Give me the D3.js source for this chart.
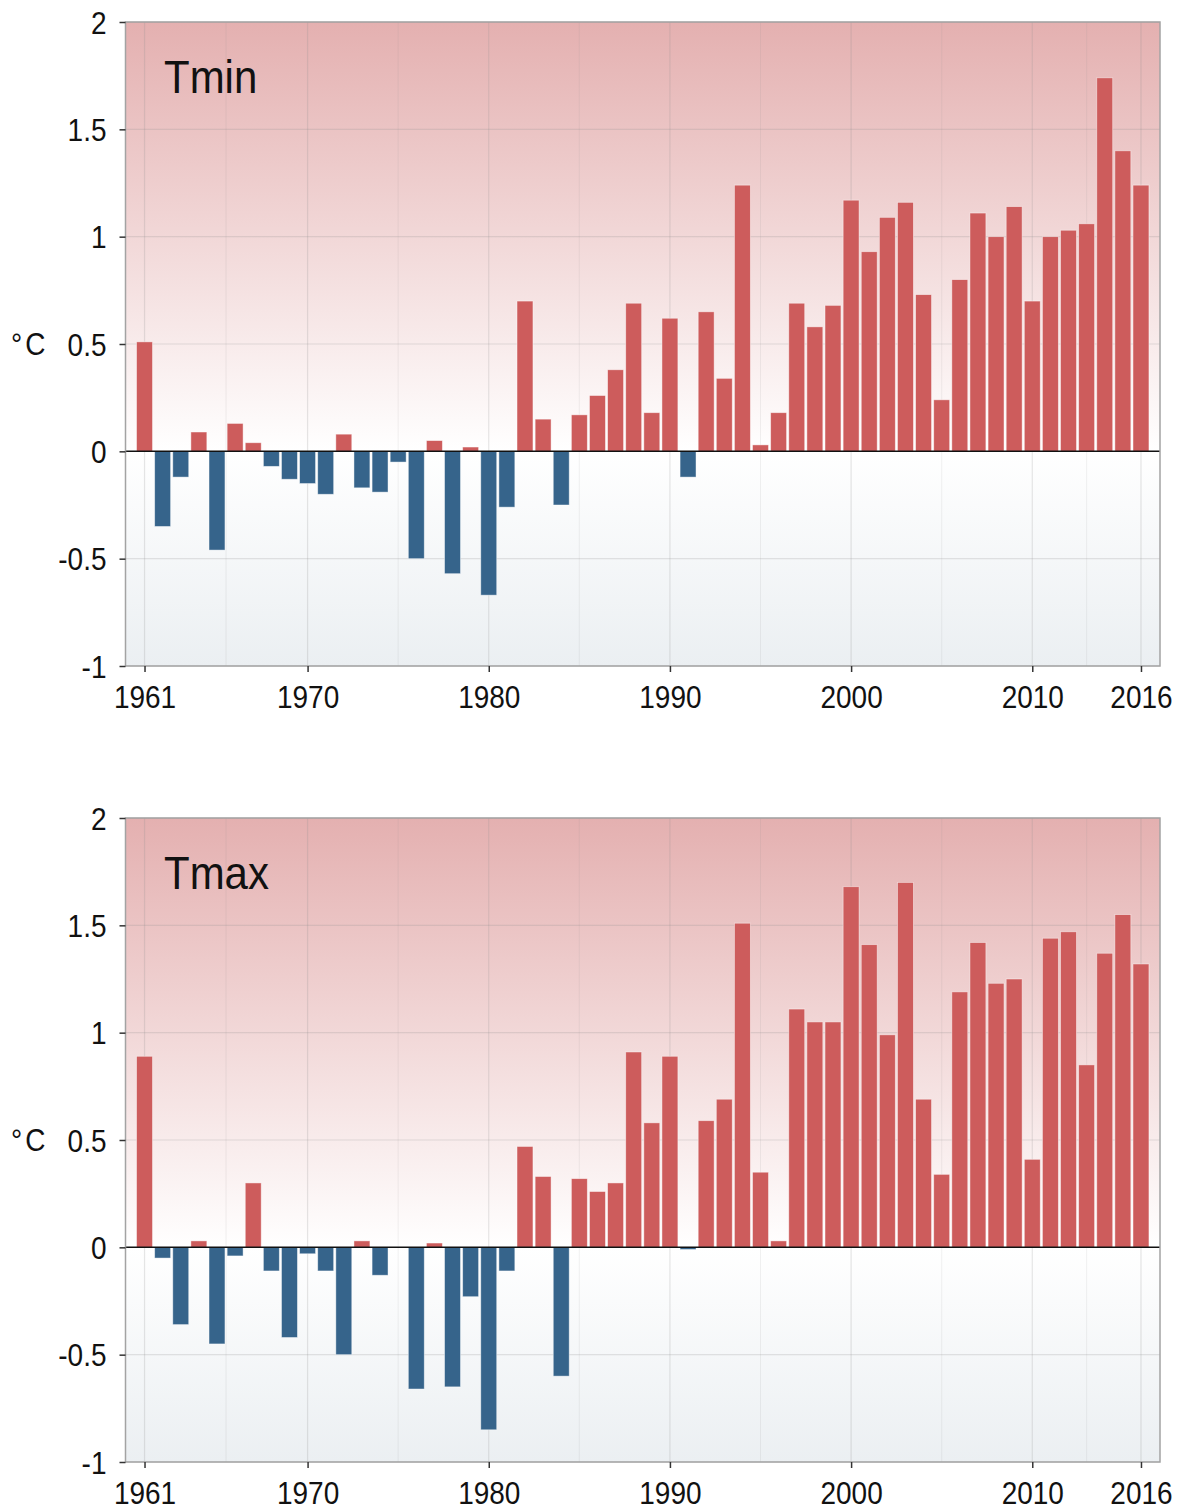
<!DOCTYPE html>
<html>
<head>
<meta charset="utf-8">
<script src="https://cdn.jsdelivr.net/npm/d3@7"></script>
<style>
  html, body { margin: 0; padding: 0; background: #ffffff; }
  svg { display: block; font-family: "Liberation Sans", Arial, Helvetica, sans-serif; }
</style>
</head>
<body>
<svg id="chart" width="1181" height="1511"></svg>
<script>
// Annual temperature anomalies (°C), 1961–2016
const years = [
  1961, 1962, 1963, 1964, 1965, 1966, 1967, 1968, 1969, 1970,
  1971, 1972, 1973, 1974, 1975, 1976, 1977, 1978, 1979, 1980,
  1981, 1982, 1983, 1984, 1985, 1986, 1987, 1988, 1989, 1990,
  1991, 1992, 1993, 1994, 1995, 1996, 1997, 1998, 1999, 2000,
  2001, 2002, 2003, 2004, 2005, 2006, 2007, 2008, 2009, 2010,
  2011, 2012, 2013, 2014, 2015, 2016
];

const tmin = [
  0.51, -0.35, -0.12, 0.09, -0.46, 0.13, 0.04, -0.07, -0.13, -0.15,
  -0.20, 0.08, -0.17, -0.19, -0.05, -0.50, 0.05, -0.57, 0.02, -0.67,
  -0.26, 0.70, 0.15, -0.25, 0.17, 0.26, 0.38, 0.69, 0.18, 0.62,
  -0.12, 0.65, 0.34, 1.24, 0.03, 0.18, 0.69, 0.58, 0.68, 1.17,
  0.93, 1.09, 1.16, 0.73, 0.24, 0.80, 1.11, 1.00, 1.14, 0.70,
  1.00, 1.03, 1.06, 1.74, 1.40, 1.24
];

const tmax = [
  0.89, -0.05, -0.36, 0.03, -0.45, -0.04, 0.30, -0.11, -0.42, -0.03,
  -0.11, -0.50, 0.03, -0.13, 0.00, -0.66, 0.02, -0.65, -0.23, -0.85,
  -0.11, 0.47, 0.33, -0.60, 0.32, 0.26, 0.30, 0.91, 0.58, 0.89,
  -0.01, 0.59, 0.69, 1.51, 0.35, 0.03, 1.11, 1.05, 1.05, 1.68,
  1.41, 0.99, 1.70, 0.69, 0.34, 1.19, 1.42, 1.23, 1.25, 0.41,
  1.44, 1.47, 0.85, 1.37, 1.55, 1.32
];

const xTicks = [1961, 1970, 1980, 1990, 2000, 2010, 2016];
const xMinorTicks = [1965.5, 1975, 1985, 1995, 2005, 2013];
const yTicks = [-1, -0.5, 0, 0.5, 1, 1.5, 2];
const yTickLabels = ["-1", "-0.5", "0", "0.5", "1", "1.5", "2"];
const panelTitles = ["Tmin", "Tmax"];
const unitLabel = "°C";

const panels = [
  { title: panelTitles[0], values: tmin, top: 22, bottom: 666 },
  { title: panelTitles[1], values: tmax, top: 818, bottom: 1462 }
];

const left = 125.5, right = 1160;
const barFrac = 0.88;
const posColor = "#cd5c5c";
const negColor = "#36648b";
const textStretch = 1.1;

const svg = d3.select("#chart");
const defs = svg.append("defs");

const x = d3.scaleLinear().domain([1959.95, 2017.05]).range([left, right]);
const bw = (x(1) - x(0)) * barFrac;

panels.forEach((p, i) => {
  const y = d3.scaleLinear().domain([-1, 2]).range([p.bottom, p.top]);
  const g = svg.append("g");

  // background: warm above zero, cool below
  const gid = "bg" + i;
  const grad = defs.append("linearGradient")
    .attr("id", gid)
    .attr("gradientUnits", "userSpaceOnUse")
    .attr("x1", 0).attr("x2", 0)
    .attr("y1", y(2)).attr("y2", y(-1));
  const zeroOff = (y(0) - y(2)) / (y(-1) - y(2));
  grad.append("stop").attr("offset", 0).attr("stop-color", "#e4b0b0");
  grad.append("stop").attr("offset", zeroOff).attr("stop-color", "#ffffff");
  grad.append("stop").attr("offset", 1).attr("stop-color", "#ebeff2");

  g.append("rect")
    .attr("x", left).attr("y", p.top)
    .attr("width", right - left).attr("height", p.bottom - p.top)
    .attr("fill", `url(#${gid})`);

  // grid
  g.append("g").selectAll("line").data(xMinorTicks).join("line")
    .attr("x1", d => x(d)).attr("x2", d => x(d))
    .attr("y1", p.top).attr("y2", p.bottom)
    .attr("stroke", "rgba(140,140,140,0.12)").attr("stroke-width", 1);
  g.append("g").selectAll("line").data(xTicks).join("line")
    .attr("x1", d => x(d)).attr("x2", d => x(d))
    .attr("y1", p.top).attr("y2", p.bottom)
    .attr("stroke", "rgba(140,140,140,0.22)").attr("stroke-width", 1.2);
  g.append("g").selectAll("line").data(yTicks.filter(d => d !== 0)).join("line")
    .attr("x1", left).attr("x2", right)
    .attr("y1", d => y(d)).attr("y2", d => y(d))
    .attr("stroke", "rgba(140,140,140,0.22)").attr("stroke-width", 1.2);

  // bars
  g.append("g").selectAll("rect").data(years).join("rect")
    .attr("x", (d) => x(d) - bw / 2)
    .attr("width", bw)
    .attr("y", (d, k) => y(Math.max(0, p.values[k])))
    .attr("height", (d, k) => Math.abs(y(p.values[k]) - y(0)))
    .attr("fill", (d, k) => p.values[k] >= 0 ? posColor : negColor)
    .attr("stroke", "rgba(255,255,255,0.55)")
    .attr("stroke-width", 0.8);

  // zero line
  g.append("line")
    .attr("x1", left).attr("x2", right)
    .attr("y1", y(0)).attr("y2", y(0))
    .attr("stroke", "#111").attr("stroke-width", 1.5);

  // panel border
  g.append("rect")
    .attr("x", left).attr("y", p.top)
    .attr("width", right - left).attr("height", p.bottom - p.top)
    .attr("fill", "none").attr("stroke", "#a3a3a3").attr("stroke-width", 1.5);

  // y axis
  const ya = g.append("g")
    .attr("transform", `translate(${left},0)`)
    .call(d3.axisLeft(y).tickValues(yTicks).tickSize(6)
      .tickFormat((d, k) => yTickLabels[k]));
  ya.select(".domain").remove();
  ya.selectAll(".tick line").attr("stroke", "#333").attr("stroke-width", 1.5);
  ya.selectAll(".tick text")
    .attr("x", -19).attr("dy", 0).attr("y", 11 / textStretch)
    .attr("transform", `scale(1,${textStretch})`)
    .attr("font-size", 28).attr("fill", "#111")
    .attr("font-family", null);

  // x axis
  const xa = g.append("g")
    .attr("transform", `translate(0,${p.bottom})`)
    .call(d3.axisBottom(x).tickValues(xTicks).tickSize(6).tickFormat(d3.format("d")));
  xa.select(".domain").remove();
  xa.selectAll(".tick line").attr("stroke", "#333").attr("stroke-width", 1.5);
  xa.selectAll(".tick text")
    .attr("dy", 0).attr("y", 42 / textStretch)
    .attr("transform", `scale(1,${textStretch})`)
    .attr("font-size", 28).attr("fill", "#111")
    .attr("font-family", null);

  // unit label
  const midY = (p.top + p.bottom) / 2;
  g.append("text")
    .attr("transform", `translate(11,${midY + 11}) scale(1,${textStretch})`)
    .attr("font-size", 28).attr("fill", "#111")
    .attr("letter-spacing", 3)
    .text(unitLabel);

  // panel title
  g.append("text")
    .attr("transform", `translate(164,${p.top + 71}) scale(1,${textStretch})`)
    .attr("font-size", 42).attr("fill", "#111")
    .text(p.title);
});
</script>
</body>
</html>
